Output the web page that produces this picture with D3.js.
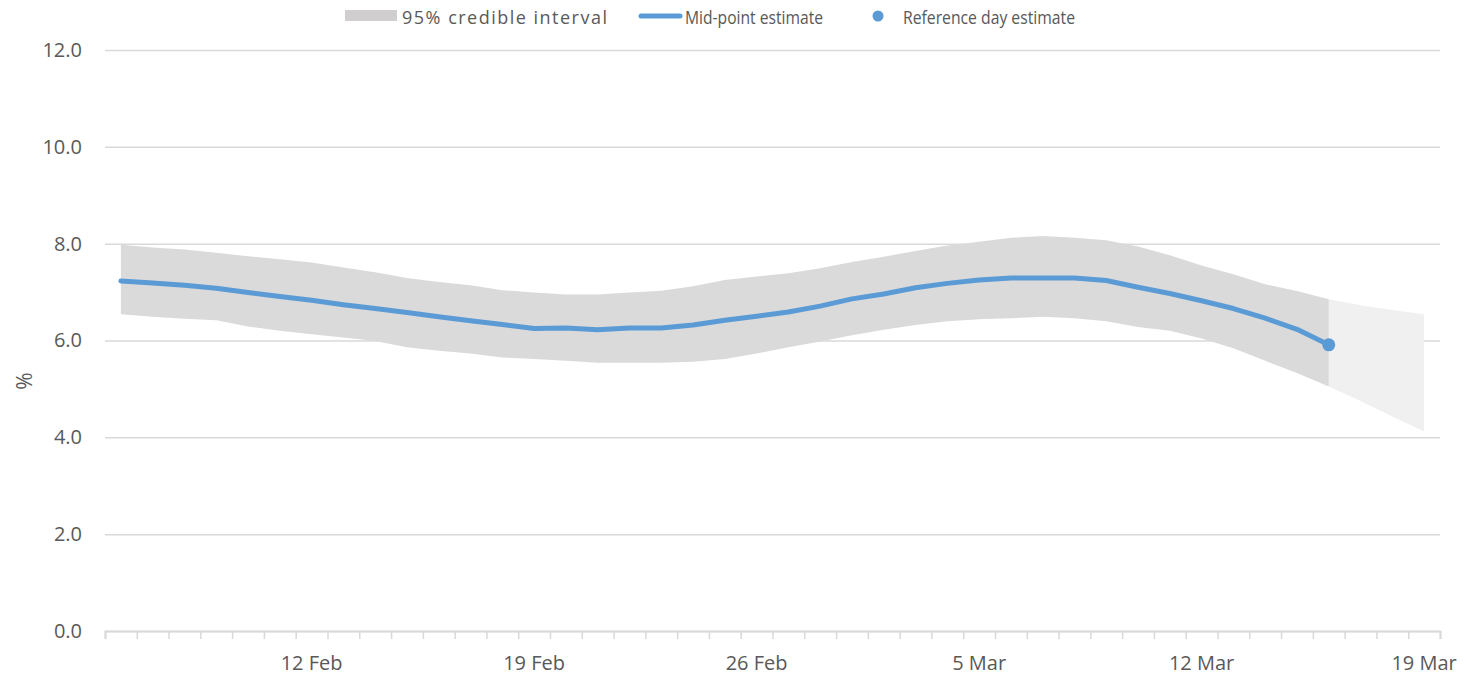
<!DOCTYPE html>
<html>
<head>
<meta charset="utf-8">
<script src="https://cdn.jsdelivr.net/npm/d3@7"></script>
<style>
  body { margin: 0; background: #fff; }
  text { font-family: "Open Sans", sans-serif; fill: #595959; }
</style>
</head>
<body>
<script>
//Width and height
var w = 1465;
var h = 675;

//Categories: one per day, 6 Feb to 19 Mar
var days = d3.timeDay.range(new Date(2021, 1, 6), new Date(2021, 2, 20));
var fmt = d3.timeFormat("%-d %b");
var dayLabels = days.map(fmt);

//Labelled ticks
var tickLabels = ["12 Feb", "19 Feb", "26 Feb", "5 Mar", "12 Mar", "19 Mar"];
var yTicks = [0, 2, 4, 6, 8, 10, 12];

//Mid-point estimate (6 Feb .. 16 Mar)
var midValues = [7.23, 7.19, 7.14, 7.08, 6.99, 6.91, 6.83, 6.74, 6.66, 6.58,
                 6.49, 6.41, 6.33, 6.25, 6.26, 6.22, 6.26, 6.26, 6.32, 6.42,
                 6.50, 6.59, 6.71, 6.86, 6.96, 7.09, 7.18, 7.25, 7.29, 7.29,
                 7.29, 7.24, 7.10, 6.97, 6.82, 6.66, 6.46, 6.23, 5.91];

//95% credible interval bounds
var upperValues = [7.98, 7.92, 7.88, 7.81, 7.74, 7.68, 7.61, 7.51, 7.41, 7.29,
                   7.21, 7.14, 7.04, 6.99, 6.95, 6.95, 6.99, 7.03, 7.12, 7.25,
                   7.32, 7.39, 7.49, 7.62, 7.73, 7.85, 7.96, 8.04, 8.12, 8.16,
                   8.12, 8.07, 7.94, 7.76, 7.55, 7.37, 7.16, 7.02, 6.85];
var lowerValues = [6.54, 6.49, 6.45, 6.42, 6.29, 6.20, 6.13, 6.06, 5.99, 5.86,
                   5.79, 5.73, 5.65, 5.62, 5.58, 5.54, 5.54, 5.54, 5.56, 5.62,
                   5.73, 5.86, 5.98, 6.11, 6.22, 6.32, 6.40, 6.44, 6.46, 6.49,
                   6.46, 6.40, 6.28, 6.20, 6.04, 5.84, 5.58, 5.33, 5.05];

//Projection beyond the reference day (16 Mar .. 19 Mar)
var projUpper = [6.85, 6.73, 6.63, 6.54];
var projLower = [5.05, 4.75, 4.43, 4.12];

//Scales
var x = d3.scaleBand()
          .domain(dayLabels)
          .range([105, 1440])
          .padding(0);

var xEdge = d3.scaleLinear()
              .domain([0, dayLabels.length])
              .range([105, 1440]);

var y = d3.scaleLinear()
          .domain([0, 12])
          .range([631, 50]);

function cx(i) { return x(dayLabels[i]) + x.bandwidth() / 2; }

//Create SVG element
var svg = d3.select("body")
            .append("svg")
            .attr("width", w)
            .attr("height", h);

//Gridlines and y labels
var yAxis = svg.append("g")
   .attr("transform", "translate(105,0)")
   .call(d3.axisLeft(y)
           .tickValues(yTicks)
           .tickSize(-1335)
           .tickFormat(d3.format(".1f")));
yAxis.select(".domain").remove();
yAxis.selectAll("line").attr("stroke", "#d9d9d9").attr("stroke-width", 1.5);
yAxis.selectAll("text")
     .attr("x", -23)
     .style("font-size", "20px")
     .style("font-family", "'Open Sans', sans-serif")
     .attr("fill", "#595959");

//Y title
svg.append("text")
   .attr("transform", "translate(32,381) rotate(-90)")
   .attr("text-anchor", "middle")
   .style("font-size", "21px")
   .text("%");

//Credible interval band
var band = d3.area()
             .x(function(d) { return cx(d.i); })
             .y0(function(d) { return y(d.lo); })
             .y1(function(d) { return y(d.hi); });

var bandData = upperValues.map(function(v, i) {
  return { i: i, hi: v, lo: lowerValues[i] };
});
var start = upperValues.length - 1;
var projData = projUpper.map(function(v, i) {
  return { i: start + i, hi: v, lo: projLower[i] };
});

svg.append("path")
   .datum(projData)
   .attr("d", band)
   .attr("fill", "#f0f0f0");

svg.append("path")
   .datum(bandData)
   .attr("d", band)
   .attr("fill", "#dbdadb");

//Mid-point line
var line = d3.line()
             .x(function(d, i) { return cx(i); })
             .y(function(d) { return y(d); });

svg.append("path")
   .datum(midValues)
   .attr("d", line)
   .attr("fill", "none")
   .attr("stroke", "#5b9bd5")
   .attr("stroke-width", 5)
   .attr("stroke-linecap", "round")
   .attr("stroke-linejoin", "round");

//Reference day point
svg.append("circle")
   .attr("cx", cx(midValues.length - 1))
   .attr("cy", y(midValues[midValues.length - 1]))
   .attr("r", 6.5)
   .attr("fill", "#5b9bd5");

//X axis: day tick marks
var xTicks = svg.append("g")
   .attr("transform", "translate(0,631)")
   .call(d3.axisBottom(xEdge)
           .tickValues(d3.range(dayLabels.length + 1))
           .tickSize(8)
           .tickFormat(""));
xTicks.select(".domain").attr("stroke", "#d9d9d9").attr("stroke-width", 2);
xTicks.selectAll("line").attr("stroke", "#d9d9d9").attr("stroke-width", 1.5);

//X axis labels
var xLabels = svg.append("g")
   .attr("transform", "translate(0,631)")
   .call(d3.axisBottom(x)
           .tickValues(tickLabels)
           .tickSize(0)
           .tickPadding(25));
xLabels.select(".domain").remove();
xLabels.selectAll("text")
       .style("font-size", "20px")
       .style("font-family", "'Open Sans', sans-serif")
       .attr("fill", "#595959");

//Legend
var legend = svg.append("g");
legend.append("rect")
      .attr("x", 345).attr("y", 10)
      .attr("width", 52).attr("height", 11)
      .attr("fill", "#d0cecf");
legend.append("text")
      .attr("x", 402).attr("y", 24)
      .attr("textLength", 205)
      .attr("lengthAdjust", "spacing")
      .style("font-size", "18px")
      .text("95% credible interval");
legend.append("line")
      .attr("x1", 641).attr("x2", 680)
      .attr("y1", 16).attr("y2", 16)
      .attr("stroke", "#5b9bd5")
      .attr("stroke-width", 5)
      .attr("stroke-linecap", "round");
legend.append("text")
      .attr("x", 685).attr("y", 24)
      .attr("textLength", 138)
      .attr("lengthAdjust", "spacingAndGlyphs")
      .style("font-size", "18px")
      .text("Mid-point estimate");
legend.append("circle")
      .attr("cx", 878).attr("cy", 16)
      .attr("r", 5.5)
      .attr("fill", "#5b9bd5");
legend.append("text")
      .attr("x", 903).attr("y", 24)
      .attr("textLength", 172)
      .attr("lengthAdjust", "spacingAndGlyphs")
      .style("font-size", "18px")
      .text("Reference day estimate");
</script>
</body>
</html>
